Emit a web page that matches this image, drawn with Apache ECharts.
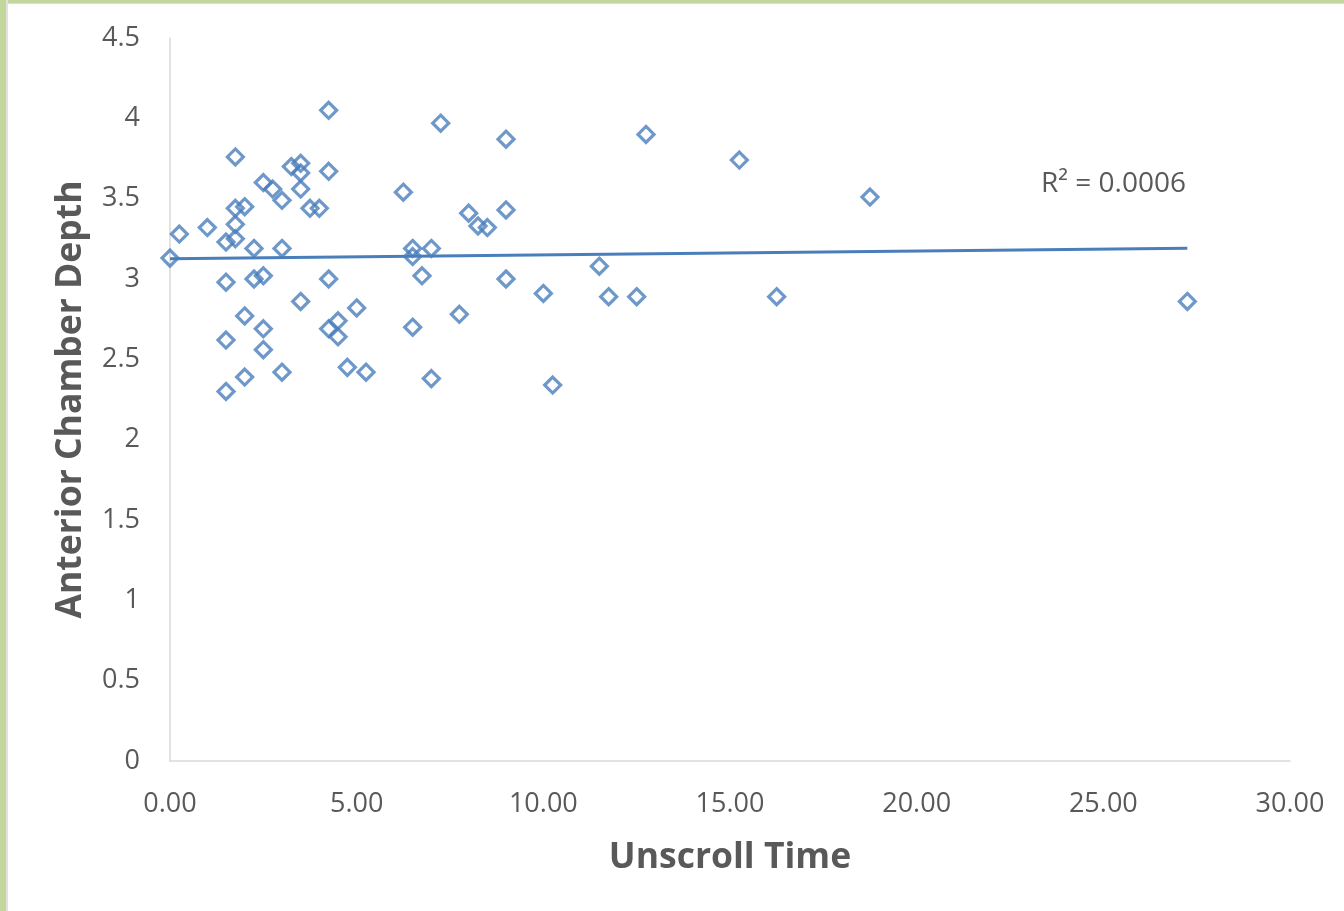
<!DOCTYPE html>
<html>
<head>
<meta charset="utf-8">
<script src="https://cdn.jsdelivr.net/npm/echarts@6/dist/echarts.min.js"></script>
<style>
  html, body { margin: 0; padding: 0; background: #ffffff; }
  #chart { position: absolute; left: 0; top: 0; width: 1344px; height: 911px; }
  .bt { position: absolute; left: 0; top: 0; width: 1344px; height: 3px; background: #c3d69b; border-bottom: 1px solid #dcdcdc; pointer-events: none; }
  .bl { position: absolute; left: 0; top: 0; width: 6px; height: 911px; background: #c3d69b; border-right: 2px solid #e2e2e2; pointer-events: none; }
</style>
</head>
<body>
<div id="chart"></div>
<div class="bt"></div>
<div class="bl"></div>
<script>
// Unscroll time (x) values
const unscrollTime = [
  0.00, 0.25, 1.00, 1.50, 1.50, 1.50, 1.50, 1.75, 1.75, 1.75,
  1.75, 2.00, 2.00, 2.00, 2.25, 2.25, 2.50, 2.50, 2.50, 2.50,
  2.75, 3.00, 3.00, 3.00, 3.25, 3.50, 3.50, 3.50, 3.50, 3.75,
  4.00, 4.25, 4.25, 4.25, 4.25, 4.50, 4.50, 4.75, 5.00, 5.25,
  6.25, 6.50, 6.50, 6.50, 6.75, 7.00, 7.00, 7.25, 7.75, 8.00,
  8.25, 8.50, 9.00, 9.00, 9.00, 10.00, 10.25, 11.50, 11.75, 12.50,
  12.75, 15.25, 16.25, 18.75, 27.25
];
// Anterior chamber depth (y) values
const chamberDepth = [
  3.13, 3.28, 3.32, 3.23, 2.98, 2.62, 2.30, 3.76, 3.44, 3.34,
  3.25, 3.45, 2.77, 2.39, 3.19, 3.00, 3.60, 3.02, 2.69, 2.56,
  3.56, 3.49, 3.19, 2.42, 3.70, 3.72, 3.66, 3.56, 2.86, 3.44,
  3.44, 4.05, 3.67, 3.00, 2.69, 2.74, 2.64, 2.45, 2.82, 2.42,
  3.54, 3.19, 3.14, 2.70, 3.02, 3.19, 2.38, 3.97, 2.78, 3.41,
  3.33, 3.32, 3.87, 3.43, 3.00, 2.91, 2.34, 3.08, 2.89, 2.89,
  3.90, 3.74, 2.89, 3.51, 2.86
];
const xTicks = [0, 5, 10, 15, 20, 25, 30];
const yTicks = [0, 0.5, 1, 1.5, 2, 2.5, 3, 3.5, 4, 4.5];
const r2Label = 'R² = 0.0006';
const xTitle = 'Unscroll Time';
const yTitle = 'Anterior Chamber Depth';

const points = unscrollTime.map((x, i) => [x, chamberDepth[i]]);

// Least-squares linear trend line
const n = points.length;
const mx = unscrollTime.reduce((a, b) => a + b, 0) / n;
const my = chamberDepth.reduce((a, b) => a + b, 0) / n;
let sxy = 0, sxx = 0;
for (let i = 0; i < n; i++) {
  sxy += (unscrollTime[i] - mx) * (chamberDepth[i] - my);
  sxx += (unscrollTime[i] - mx) * (unscrollTime[i] - mx);
}
const slope = sxy / sxx;
const intercept = my - slope * mx;
const xMin = Math.min(...unscrollTime), xMax = Math.max(...unscrollTime);
const trend = [[xMin, intercept + slope * xMin], [xMax, intercept + slope * xMax]];

const FONT = '"Open Sans", "Noto Sans", sans-serif';
const chart = echarts.init(document.getElementById('chart'), null, { renderer: 'canvas' });
chart.setOption({
  animation: false,
  backgroundColor: 'transparent',
  grid: { left: 170, right: 54, top: 38, bottom: 150, containLabel: false },
  xAxis: {
    type: 'value', min: xTicks[0], max: xTicks[xTicks.length - 1], interval: 5,
    name: xTitle, nameLocation: 'middle', nameGap: 79,
    nameTextStyle: { fontFamily: FONT, fontSize: 35.5, fontWeight: 'bold', color: '#595959' },
    axisLine: { show: true, lineStyle: { color: '#d9d9d9', width: 1.5 } },
    axisTick: { show: false },
    splitLine: { show: false },
    axisLabel: { fontFamily: FONT, fontSize: 27, color: '#595959', margin: 30,
      formatter: v => v.toFixed(2) }
  },
  yAxis: {
    type: 'value', min: yTicks[0], max: yTicks[yTicks.length - 1], interval: 0.5,
    name: yTitle, nameLocation: 'middle', nameGap: 81,
    nameTextStyle: { fontFamily: FONT, fontSize: 35.5, fontWeight: 'bold', color: '#595959' },
    axisLine: { show: true, lineStyle: { color: '#d9d9d9', width: 1.5 } },
    axisTick: { show: false },
    splitLine: { show: false },
    axisLabel: { fontFamily: FONT, fontSize: 27, color: '#595959', margin: 30,
      formatter: v => String(v) }
  },
  series: [
    {
      type: 'line', data: trend, showSymbol: false, symbol: 'none',
      lineStyle: { color: '#4a7ebb', width: 3 }, z: 2, silent: true
    },
    {
      type: 'scatter', data: points, symbol: 'diamond', symbolSize: 16,
      itemStyle: { color: 'rgba(255,255,255,0)', borderColor: '#4a7ebb', borderWidth: 3.2 },
      z: 3
    }
  ],
  graphic: [{
    type: 'text', left: 1041, top: 170,
    style: { text: r2Label, fontFamily: FONT, fontSize: 28, fill: '#595959' }
  }]
});
</script>
</body>
</html>
